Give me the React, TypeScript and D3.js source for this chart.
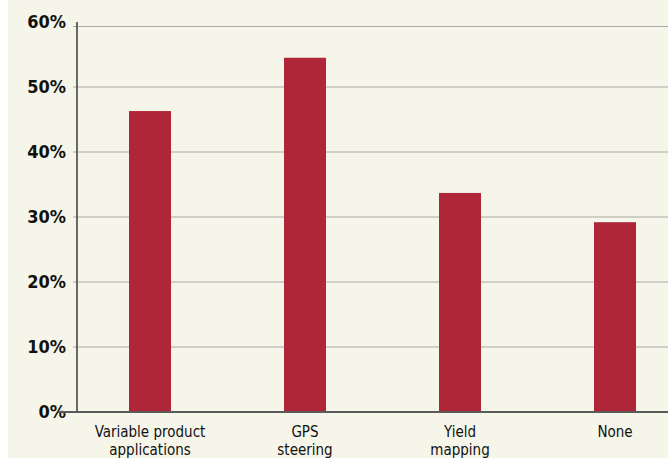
import React from "react";
import * as d3 from "d3";

const categories: string[][] = [
  ["Variable product", "applications"],
  ["GPS", "steering"],
  ["Yield", "mapping"],
  ["None"],
];
const values: number[] = [46.3, 54.5, 33.7, 29.2];
const yTicks: number[] = [0, 10, 20, 30, 40, 50, 60];

const W = 660;
const H = 458;
const OFF = 8; // svg sits at page x=8

export default function App() {
  const y = d3.scaleLinear().domain([0, 60]).range([412, 22]);
  const x = d3
    .scalePoint<number>()
    .domain(categories.map((_, i) => i))
    .range([150 - OFF, 615 - OFF]);
  const barW = 42;
  const axisX = 77 - OFF;
  const font = "'Liberation Sans Narrow', 'DejaVu Sans Condensed', sans-serif";

  return (
    <svg
      width={W}
      height={H}
      style={{ position: "absolute", left: OFF, top: 0, background: "#f5f5e9" }}
    >
      {yTicks.map((t) => {
        const yy = t === 60 ? y(t) + 4.5 : y(t);
        return (
          <g key={t}>
            {t !== 0 && (
              <line
                x1={axisX - 4}
                x2={W}
                y1={yy}
                y2={yy}
                stroke="#a9a9a4"
                strokeWidth={1.2}
              />
            )}
            <text
              x={66 - OFF}
              y={y(t)}
              dy="0.35em"
              textAnchor="end"
              fontFamily={font}
              fontWeight="bold"
              fontSize={18}
              fill="#111"
            >
              {t}%
            </text>
          </g>
        );
      })}
      {values.map((v, i) => (
        <rect
          key={i}
          x={(x(i) as number) - barW / 2}
          y={y(v)}
          width={barW}
          height={y(0) - y(v)}
          fill="#af2638"
        />
      ))}
      <line x1={axisX} x2={axisX} y1={y(60)} y2={y(0)} stroke="#5a5a58" strokeWidth={1.8} />
      <line x1={58 - OFF} x2={W} y1={y(0)} y2={y(0)} stroke="#5a5a58" strokeWidth={1.8} />
      {categories.map((lines, i) => (
        <text
          key={i}
          x={x(i) as number}
          y={437}
          textAnchor="middle"
          fontFamily={font}
          fontSize={15}
          fill="#111"
        >
          {lines.map((l, j) => (
            <tspan key={j} x={x(i) as number} dy={j === 0 ? 0 : 18}>
              {l}
            </tspan>
          ))}
        </text>
      ))}
    </svg>
  );
}
